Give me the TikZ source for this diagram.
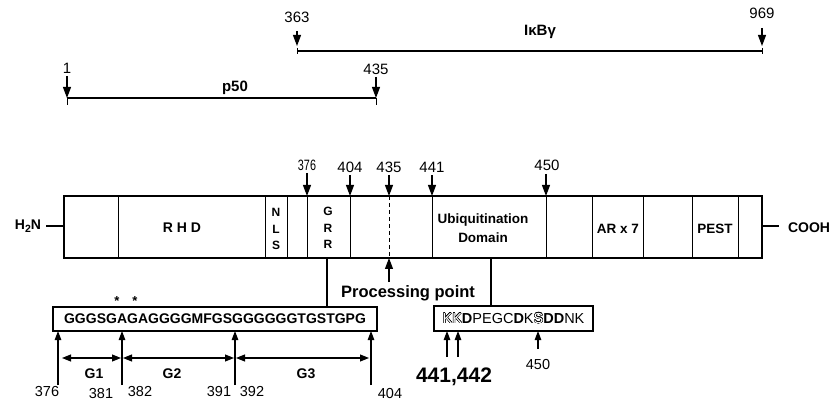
\documentclass[tikz,border=0pt]{standalone}
\usepackage{fontspec}
\setmainfont{Liberation Sans}
\usepackage{graphicx}
\usepackage[copies]{contour}
\contourlength{0.35pt}
\usetikzlibrary{arrows.meta}
\newcommand{\hollow}[1]{\contour{black}{\textcolor{white}{#1}}}
\begin{document}
\begin{tikzpicture}[x=1pt,y=-1pt,
  every node/.style={inner sep=0pt,outer sep=0pt},
  num/.style={font=\fontsize{15}{17}\selectfont},
  seqnum/.style={font=\fontsize{14.5}{17}\selectfont},
  lab/.style={font=\bfseries\fontsize{13.5}{15}\selectfont},
  stack/.style={font=\bfseries\fontsize{12}{16.5}\selectfont,align=center},
  arr/.style={-{Triangle[length=11pt,width=8pt]},line width=1.1pt},
  sarr/.style={-{Triangle[length=9pt,width=6.5pt]},line width=1.1pt},
  dbl/.style={{Triangle[length=9pt,width=7pt]}-{Triangle[length=9pt,width=7pt]},line width=1.1pt},
  rangebar/.style={line width=1.4pt},
  divider/.style={line width=0.9pt},
  conn/.style={line width=1.1pt},
  seqbox/.style={draw,line width=1.2pt}
]
\useasboundingbox (0,0) rectangle (831,401);

% ---------- top ranges ----------
\node[num] (n363) at (297,17) {363};
\node[num] (n969) at (762,13) {969};
\node[font=\bfseries\fontsize{15}{17}\selectfont] (ikb) at (540,32) {IκBγ};
\coordinate (b363) at (297,51);
\coordinate (b969) at (762,51);
\coordinate (a363) at (297,31);
\coordinate (a969) at (762,28);
\draw[arr] (a363) -- ([yshift=5pt]b363);
\draw[arr] (a969) -- ([yshift=5pt]b969);
\draw[rangebar] (b363) -- (b969);
\draw[line width=1pt] (297,48) -- (297,54) (762,48) -- (762,54);

\node[num] (n1) at (67,68) {1};
\node[num] (n435a) at (376,69) {435};
\node[font=\bfseries\fontsize{15}{17}\selectfont] (p50) at (235,88) {p50};
\coordinate (b1) at (67,98);
\coordinate (b435) at (376,98);
\coordinate (a1) at (67,76);
\coordinate (a435) at (376,77);
\draw[arr] (a1) -- (b1);
\draw[arr] (a435) -- (b435);
\draw[rangebar] (b1) -- (b435);
\draw[line width=1pt] (67,98) -- (67,105) (376,98) -- (376,105);

% ---------- main box ----------
\node[draw,line width=1.8pt,minimum width=698pt,minimum height=62pt] (mainbox) at (413,227) {};
\foreach \x in {118,265,287,307,350,432,546,592,643,692,738}
  \draw[divider] (\x,196) -- (\x,258);
\draw[divider,dashed,dash pattern=on 4pt off 3pt] (389,196) -- (389,258);

\node[lab,font=\bfseries\fontsize{14}{15}\selectfont] (rhd) at (182,228) {R H D};
\node[stack] (nls) at (276,229) {N\\L\\S};
\node[stack] (grr) at (328,228) {G\\R\\R};
\node[lab,align=center,font=\bfseries\fontsize{13.5}{18.5}\selectfont] (ubd) at (483,228) {Ubiquitination\\Domain};
\node[lab] (arx) at (618,229) {AR x 7};
\node[lab] (pest) at (715,229) {PEST};

\node[lab,font=\bfseries\fontsize{14}{16}\selectfont] (h2n) at (28,226) {H\raisebox{-3pt}{\fontsize{10.5}{11}\selectfont 2}N};
\draw[line width=1.4pt] (46,226) -- (mainbox.west |- 0,226);
\node[lab,font=\bfseries\fontsize{14}{16}\selectfont] (cooh) at (809,228) {COOH};
\draw[line width=1.4pt] (mainbox.east |- 0,226) -- (779,226);

% arrows above main box
\node[num] (m376) at (307,165) {\scalebox{0.72}[1]{376}};
\node[num] (m404) at (350,167) {404};
\node[num] (m435) at (389,167) {435};
\node[num] (m441) at (432,167) {441};
\node[num] (m450) at (547,165) {450};
\foreach \x/\s in {307/173,350/175,389/175,432/175,546/174}
  \draw[arr] (\x,\s) -- (\x,196);

% processing point
\draw[arr] (389,282) -- (389,258);
\node[font=\bfseries\fontsize{16.5}{18}\selectfont,anchor=base] (proc) at (408,298) {Processing point};

% ---------- sequence box (GRR) ----------
\node[seqbox,minimum width=324pt,minimum height=24pt,font=\bfseries\fontsize{14}{16}\selectfont] (seq) at (215,319) {GGGSGAGAGGGGMFGSGGGGGGTGSTGPG};
\draw[conn] (327,258) -- (327,307);
\node[font=\bfseries\fontsize{13}{13}\selectfont] (st1) at (117,301) {*};
\node[font=\bfseries\fontsize{13}{13}\selectfont] (st2) at (135,301) {*};

\foreach \x in {58,122,235,371}
  \draw[sarr] (\x,385) -- (\x,331);
\draw[dbl] (62,358) -- (121,358);
\draw[dbl] (123,358) -- (234,358);
\draw[dbl] (236,358) -- (369,358);
\node[font=\bfseries\fontsize{14}{16}\selectfont] (g1) at (94,374) {G1};
\node[font=\bfseries\fontsize{14}{16}\selectfont] (g2) at (172,374) {G2};
\node[font=\bfseries\fontsize{14}{16}\selectfont] (g3) at (306,374) {G3};

\node[seqnum] (s376) at (47,392) {376};
\node[seqnum] (s381) at (101,394) {381};
\node[seqnum] (s382) at (140,392) {382};
\node[seqnum] (s391) at (219,392) {391};
\node[seqnum] (s392) at (252,392) {392};
\node[seqnum] (s404) at (390,394) {404};

% ---------- ubiquitination sequence box ----------
\node[seqbox,minimum width=159pt,minimum height=25pt,font=\fontsize{14.5}{16}\selectfont] (ubq) at (513.5,318.5)
  {\hollow{KK}\textbf{D}PEGC\textbf{D}K\hollow{S}\textbf{DD}NK};
\draw[conn] (491,258) -- (491,306);
\draw[sarr] (447,357) -- (447,331);
\draw[sarr] (458,357) -- (458,331);
\draw[sarr] (538,349) -- (538,331);
\node[font=\bfseries\fontsize{21}{23}\selectfont] (k441) at (454,377) {441,442};
\node[seqnum] (u450) at (538,365) {450};
\end{tikzpicture}
\end{document}
